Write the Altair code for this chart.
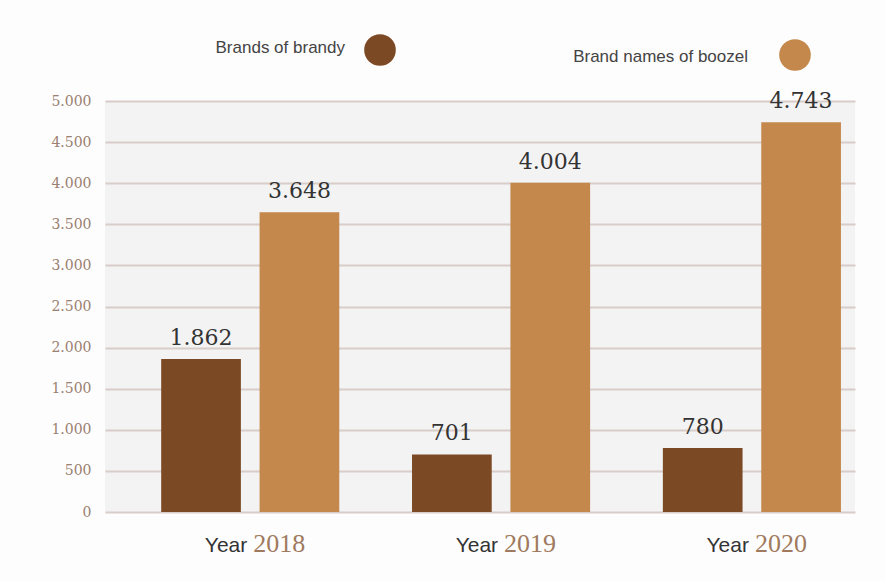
import altair as alt
import pandas as pd

years = ["2018", "2019", "2020"]
series = ["Brands of brandy", "Brand names of boozel"]
brandy = [1862, 701, 780]
booze = [3648, 4004, 4743]
y_ticks = [0, 500, 1000, 1500, 2000, 2500, 3000, 3500, 4000, 4500, 5000]
colors = ["#7b4a24", "#c4884c"]

rows = []
for i, yr in enumerate(years):
    rows.append({"year": yr, "series": series[0], "value": brandy[i]})
    rows.append({"year": yr, "series": series[1], "value": booze[i]})
df = pd.DataFrame(rows)
df["label"] = df["value"].map(lambda v: f"{v:,}".replace(",", "."))
df["yearword"] = "Year"

xscale = alt.Scale(paddingInner=0.29, paddingOuter=0.14, align=0.8)
offscale = alt.Scale(paddingInner=0.19, paddingOuter=0)
x = alt.X("year:N", scale=xscale, axis=None, sort=years)
xo = alt.XOffset("series:N", scale=offscale, sort=series)
y = alt.Y("value:Q",
          scale=alt.Scale(domain=[0, 5000], nice=False),
          axis=alt.Axis(values=y_ticks, title=None, domain=False, ticks=False,
                        labelExpr="replace(format(datum.value, ','), ',', '.')",
                        labelFont="DejaVu Serif", labelFontSize=14,
                        labelColor="#9a8070", labelPadding=14,
                        grid=True, gridColor="#d8cdc8", gridWidth=2))
color = alt.Color("series:N", scale=alt.Scale(domain=series, range=colors), legend=None)

base = alt.Chart(df)

bars = base.mark_bar().encode(x=x, xOffset=xo, y=y, color=color)

labels = base.mark_text(baseline="bottom", dy=-9, font="DejaVu Serif",
                        fontSize=22, color="#333333").encode(
    x=x, xOffset=xo, y="value:Q", text="label:N")

yr_bottom = base.transform_filter(alt.datum.series == series[0])
yearword = yr_bottom.mark_text(align="right", baseline="alphabetic", dx=-3,
                               font="Liberation Sans", fontSize=21,
                               color="#333333").encode(
    x=x, y=alt.value(451), text="yearword:N")
yearnum = yr_bottom.mark_text(align="left", baseline="alphabetic", dx=3,
                              font="Liberation Serif", fontSize=26,
                              color="#a07a5e").encode(
    x=x, y=alt.value(451), text="year:N")

leg_df = pd.DataFrame({"series": series})
leg1_t = alt.Chart(leg_df).transform_filter(alt.datum.series == series[0]).mark_text(
    align="right", baseline="middle", font="Liberation Sans", fontSize=17,
    color="#444444").encode(x=alt.value(240), y=alt.value(-53), text="series:N")
leg1_c = alt.Chart(leg_df).transform_filter(alt.datum.series == series[0]).mark_circle(
    size=1000, opacity=1).encode(x=alt.value(275), y=alt.value(-51), color=color)
leg2_t = alt.Chart(leg_df).transform_filter(alt.datum.series == series[1]).mark_text(
    align="right", baseline="middle", font="Liberation Sans", fontSize=17,
    color="#444444").encode(x=alt.value(643), y=alt.value(-44), text="series:N")
leg2_c = alt.Chart(leg_df).transform_filter(alt.datum.series == series[1]).mark_circle(
    size=1000, opacity=1).encode(x=alt.value(690), y=alt.value(-46), color=color)

chart = alt.layer(bars, labels, yearword, yearnum, leg1_t, leg1_c, leg2_t, leg2_c).properties(
    width=750, height=411,
    autosize=alt.AutoSizeParams(type="none"),
    padding={"left": 105, "top": 101, "right": 30, "bottom": 69},
    background="#fdfdfd",
).configure_view(fill="#f3f3f3", stroke=None)

chart.save("out.html", embed_options={"renderer": "svg", "actions": False})
